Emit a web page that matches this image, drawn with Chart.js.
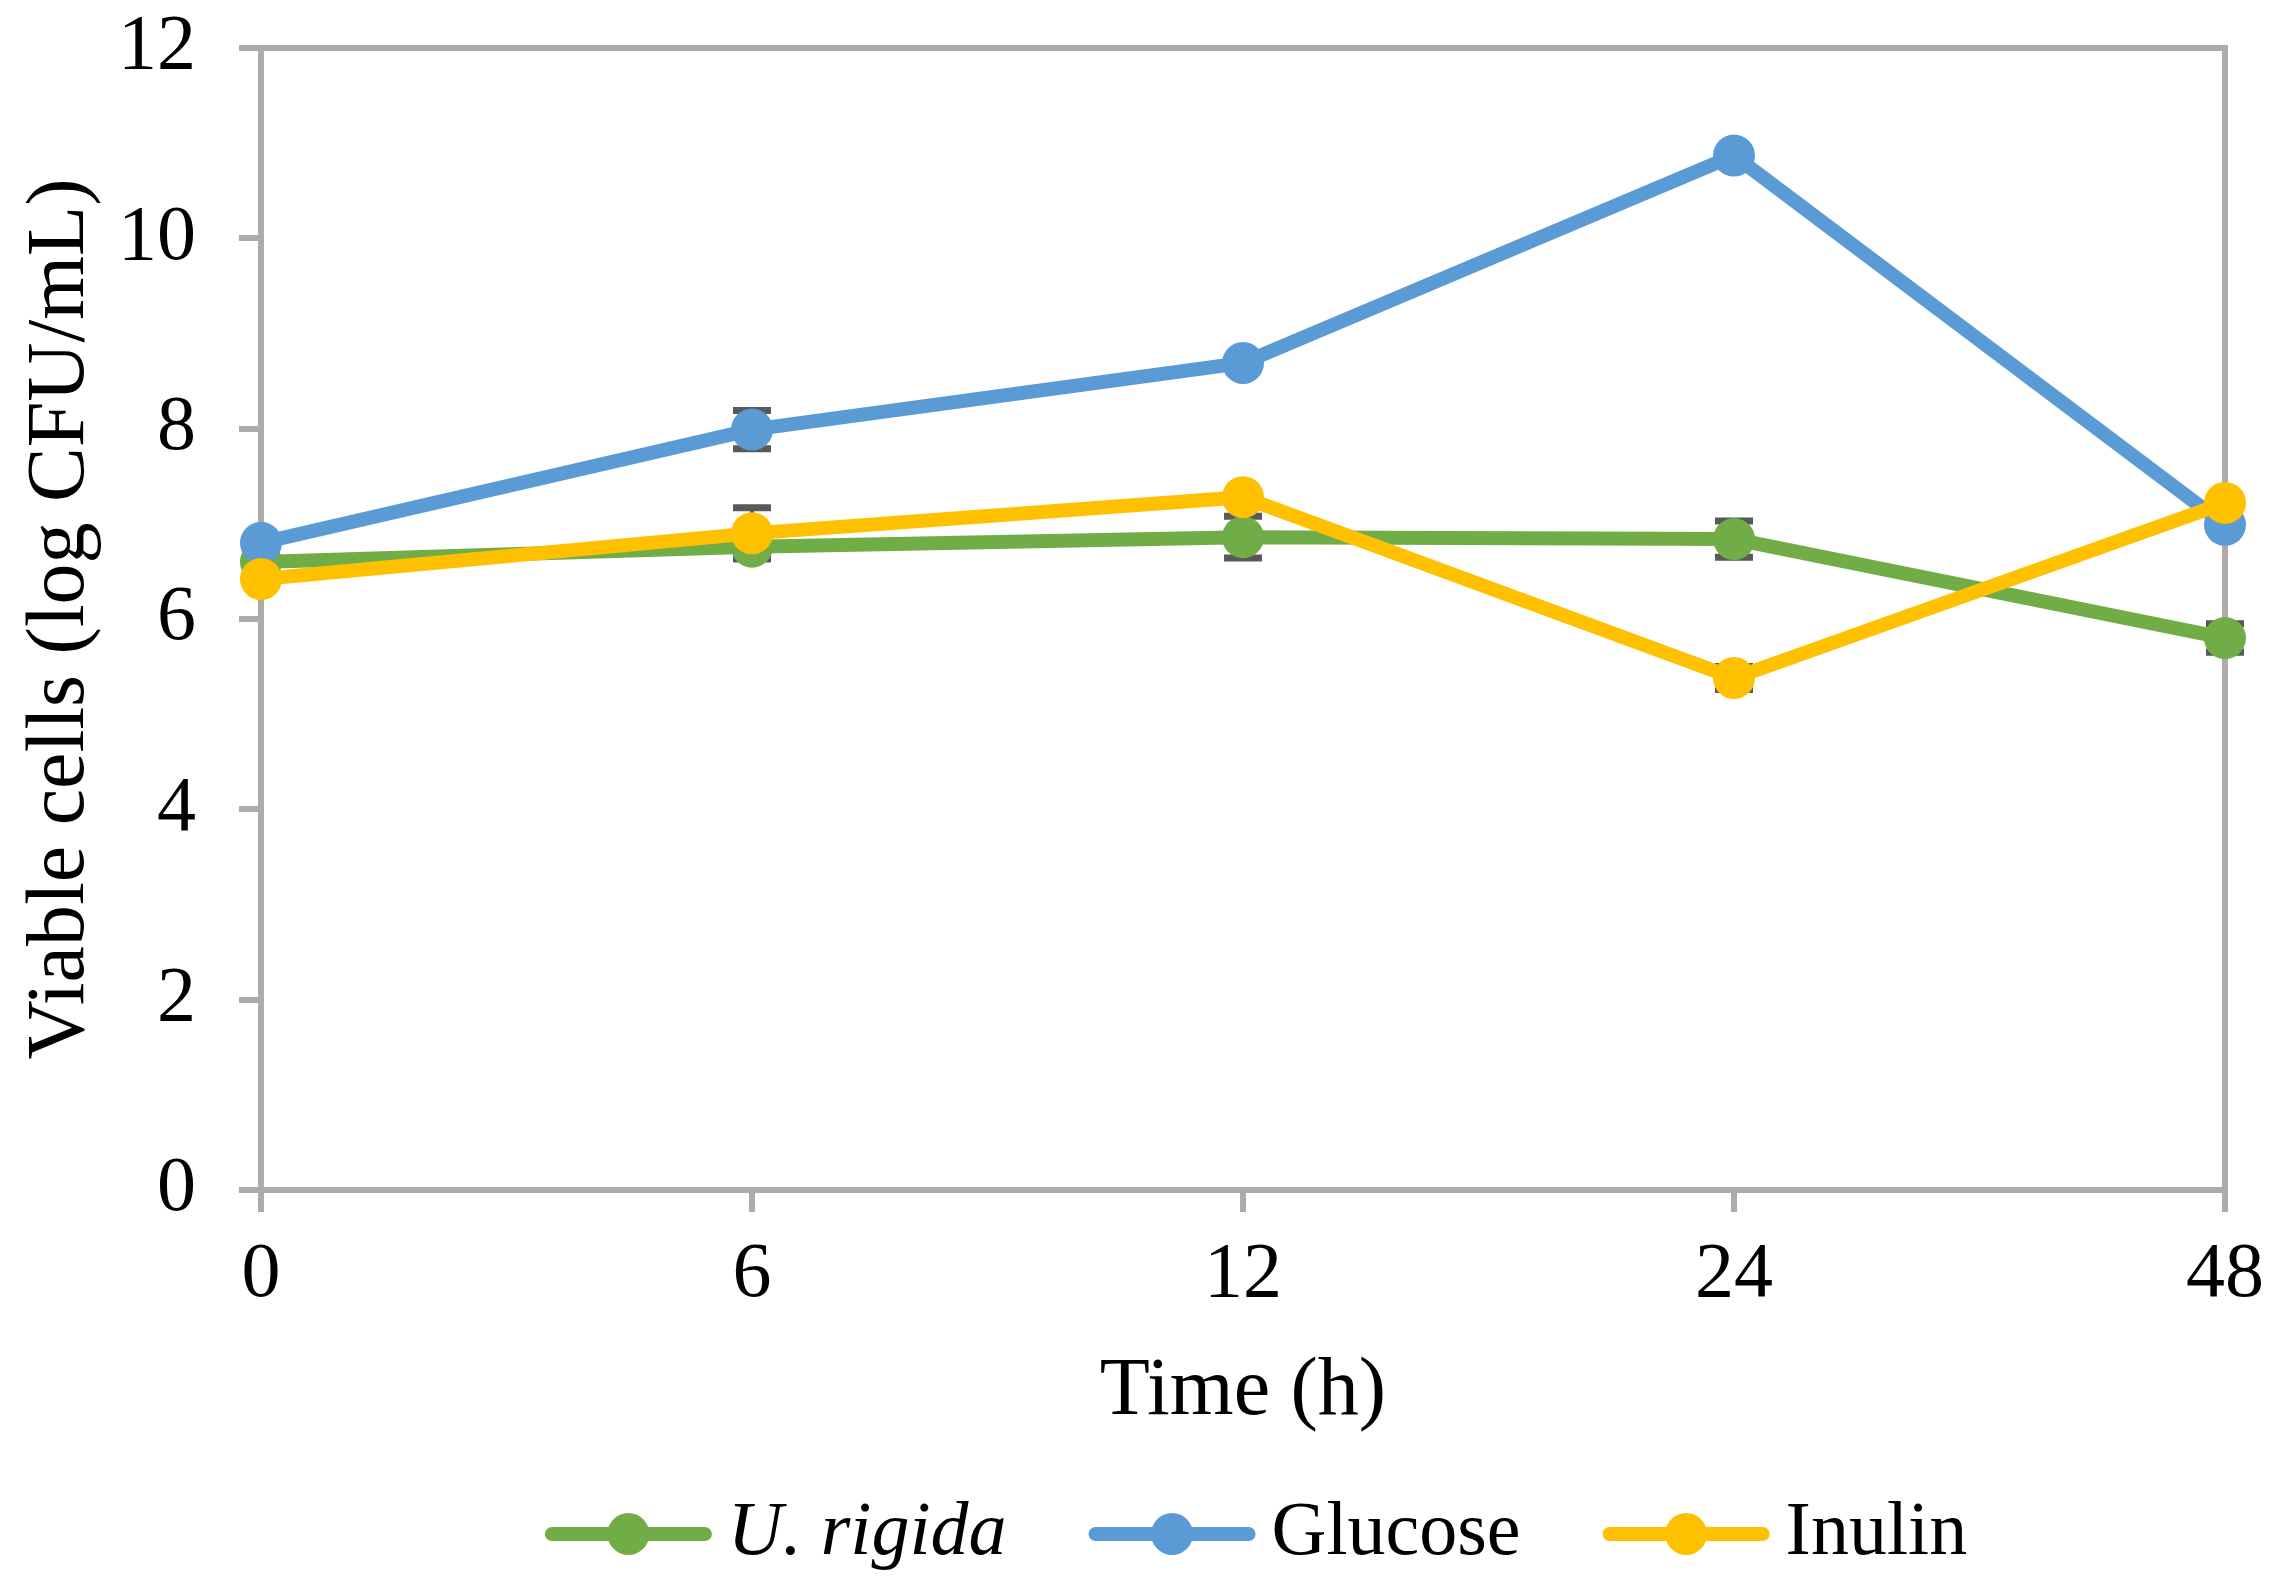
<!DOCTYPE html>
<html>
<head>
<meta charset="utf-8">
<script src="https://cdn.jsdelivr.net/npm/chart.js@4.4.0/dist/chart.umd.min.js"></script>
<style>
  html, body { margin: 0; padding: 0; background: #fff; overflow: hidden; }
  canvas { display: block; }
</style>
</head>
<body>
<canvas id="viableChart" width="2276" height="1584" style="width:2276px;height:1584px"></canvas>
<script>
// du lieu doc tu hinh
var timeLabels  = ['0', '6', '12', '24', '48'];
var seriesNames = ['U. rigida', 'Glucose', 'Inulin'];
var rigidaVals  = [6.60, 6.76, 6.86, 6.84, 5.80];
var glucoseVals = [6.80, 7.99, 8.69, 10.87, 6.99];
var inulinVals  = [6.42, 6.90, 7.28, 5.38, 7.22];
var rigidaErr   = [0.04, 0.10, 0.22, 0.19, 0.15];
var glucoseErr  = [0.04, 0.20, 0.05, 0.05, 0.05];
var inulinErr   = [0.05, 0.27, 0.05, 0.12, 0.05];
var yTicks      = [0, 2, 4, 6, 8, 10, 12];

var GREEN = '#70AD47', BLUE = '#5B9BD5', GOLD = '#FFC000';
var AXIS = '#AFABAB', ERRC = '#595959';
var FONT = '"Liberation Serif", "Times New Roman", serif';

function makeSet(label, vals, errs, color, order) {
  return {
    label: label,
    data: vals,
    errors: errs,
    borderColor: color,
    backgroundColor: color,
    pointBackgroundColor: color,
    pointBorderColor: color,
    pointBorderWidth: 0,
    pointRadius: 21,
    pointHoverRadius: 21,
    borderWidth: 14,
    tension: 0,
    fill: false,
    clip: false,
    order: order
  };
}

// thanh sai so ve duoi marker
var errorBars = {
  id: 'errorBars',
  beforeDatasetsDraw: function (chart) {
    var ctx = chart.ctx, ys = chart.scales.y, xs = chart.scales.x;
    ctx.save();
    ctx.strokeStyle = ERRC;
    chart.data.datasets.forEach(function (ds, di) {
      if (!chart.isDatasetVisible(di)) return;
      ds.data.forEach(function (v, i) {
        var e = ds.errors[i] || 0;
        var x = xs.getPixelForValue(i);
        var y1 = ys.getPixelForValue(v + e), y2 = ys.getPixelForValue(v - e);
        ctx.lineWidth = 4;
        ctx.beginPath(); ctx.moveTo(x, y1); ctx.lineTo(x, y2); ctx.stroke();
        ctx.lineWidth = 7;
        ctx.beginPath();
        ctx.moveTo(x - 19, y1); ctx.lineTo(x + 19, y1);
        ctx.moveTo(x - 19, y2); ctx.lineTo(x + 19, y2);
        ctx.stroke();
      });
    });
    ctx.restore();
  }
};

// khung tren + phai
var plotFrame = {
  id: 'plotFrame',
  beforeDatasetsDraw: function (chart) {
    var a = chart.chartArea, ctx = chart.ctx;
    ctx.save();
    ctx.strokeStyle = AXIS;
    ctx.lineWidth = 6;
    ctx.beginPath();
    ctx.moveTo(a.left - 3, a.top);
    ctx.lineTo(a.right, a.top);
    ctx.lineTo(a.right, a.bottom);
    ctx.stroke();
    ctx.restore();
  }
};

// chu giai kieu Excel: duong + marker, "U. rigida" in nghieng
var lineLegend = {
  id: 'lineLegend',
  afterDraw: function (chart) {
    var ctx = chart.ctx, a = chart.chartArea;
    var symW = 167, gapText = 16, gapItem = 82, cy = 1534;
    var items = chart.data.datasets.map(function (ds, i) {
      var font = (i === 0 ? 'italic ' : '') + '76px ' + FONT;
      ctx.font = font;
      return { ds: ds, font: font, w: ctx.measureText(ds.label).width };
    });
    var total = 0;
    items.forEach(function (it, i) { total += symW + gapText + it.w + (i ? gapItem : 0); });
    var x = (a.left + a.right) / 2 + 13 - total / 2;
    ctx.save();
    items.forEach(function (it) {
      var c = it.ds.borderColor;
      ctx.strokeStyle = c;
      ctx.lineWidth = 14;
      ctx.lineCap = 'round';
      ctx.beginPath(); ctx.moveTo(x + 7, cy); ctx.lineTo(x + symW - 7, cy); ctx.stroke();
      ctx.fillStyle = c;
      ctx.beginPath(); ctx.arc(x + symW / 2, cy, 21, 0, Math.PI * 2); ctx.fill();
      ctx.font = it.font;
      ctx.fillStyle = '#000';
      ctx.textAlign = 'left';
      ctx.textBaseline = 'middle';
      ctx.fillText(it.ds.label, x + symW + gapText, cy);
      x += symW + gapText + it.w + gapItem;
    });
    ctx.restore();
  }
};

new Chart(document.getElementById('viableChart'), {
  type: 'line',
  data: {
    labels: timeLabels,
    datasets: [
      makeSet(seriesNames[0], rigidaVals, rigidaErr, GREEN, 2),
      makeSet(seriesNames[1], glucoseVals, glucoseErr, BLUE, 1),
      makeSet(seriesNames[2], inulinVals, inulinErr, GOLD, 0)
    ]
  },
  options: {
    responsive: false,
    devicePixelRatio: 1,
    animation: false,
    events: [],
    layout: { padding: { top: 48, right: 51, bottom: 142, left: 0 } },
    plugins: {
      legend: { display: false },
      tooltip: { enabled: false }
    },
    scales: {
      x: {
        type: 'category',
        offset: false,
        afterFit: function (s) { s.height = 252; s.paddingLeft = 0; s.paddingRight = 0; },
        grid: { display: true, drawOnChartArea: false, drawTicks: true, tickLength: 22, color: AXIS, lineWidth: 6 },
        border: { display: true, color: AXIS, width: 6 },
        ticks: { color: '#000', padding: 17, maxRotation: 0, font: { family: FONT, size: 78 } },
        title: { display: true, text: 'Time (h)', color: '#000', padding: { top: 0, bottom: 0 }, font: { family: FONT, size: 82 } }
      },
      y: {
        min: 0,
        max: 12,
        afterFit: function (s) { s.width = 261; s.paddingTop = 0; s.paddingBottom = 0; },
        afterBuildTicks: function (s) { s.ticks = yTicks.map(function (v) { return { value: v }; }); },
        grid: { display: true, drawOnChartArea: false, drawTicks: true, tickLength: 22, color: AXIS, lineWidth: 6 },
        border: { display: true, color: AXIS, width: 6 },
        ticks: { color: '#000', padding: 43, font: { family: FONT, size: 78 } },
        title: { display: true, text: 'Viable cells (log CFU/mL)', color: '#000', padding: { top: 12, bottom: 0 }, font: { family: FONT, size: 82 } }
      }
    }
  },
  plugins: [plotFrame, errorBars, lineLegend]
});
</script>
</body>
</html>
